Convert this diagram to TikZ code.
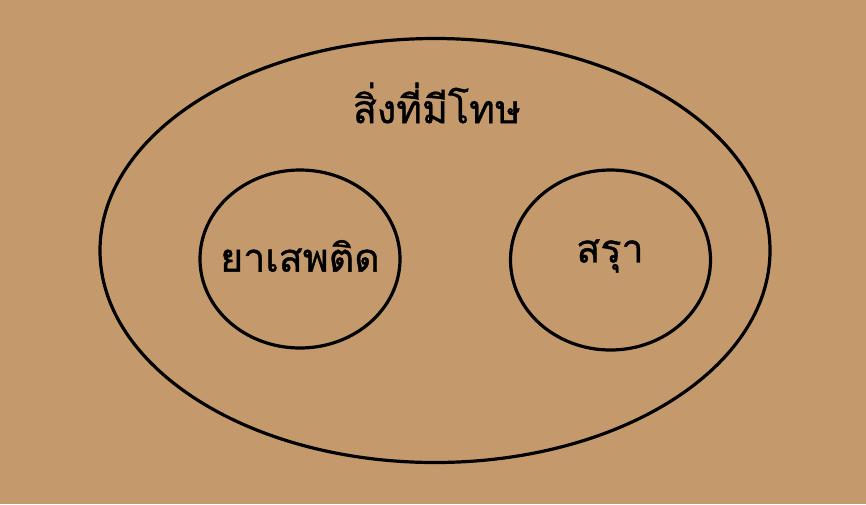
\documentclass[tikz,border=0pt]{standalone}
\usepackage{fontspec}
\newfontfamily\thaifont[Script=Thai,FakeBold=1.0]{Loma}
\definecolor{bg}{HTML}{C49A6C}
\begin{document}
\begin{tikzpicture}[x=0.75pt,y=-0.75pt,
  ring/.style={draw=black,line width=2.4pt},
  lbl/.style={font=\thaifont\fontsize{29.5}{33}\selectfont,text=black,inner sep=0pt}]
\fill[bg] (0,0) rectangle (866,504);
\useasboundingbox (0,0) rectangle (866,504);
\draw[ring] (435,250.5) ellipse [x radius=335, y radius=212];
\draw[ring] (300,259) ellipse [x radius=100, y radius=89];
\draw[ring] (610.5,260) ellipse [x radius=100, y radius=90];
\node[lbl] (outer) at (437,103) {สิ่งที่มีโทษ};
\node[lbl] (drug) at (300,256) {ยาเสพติด};
\node[lbl] (alc) at (610,256) {สรุา};
\end{tikzpicture}
\end{document}
